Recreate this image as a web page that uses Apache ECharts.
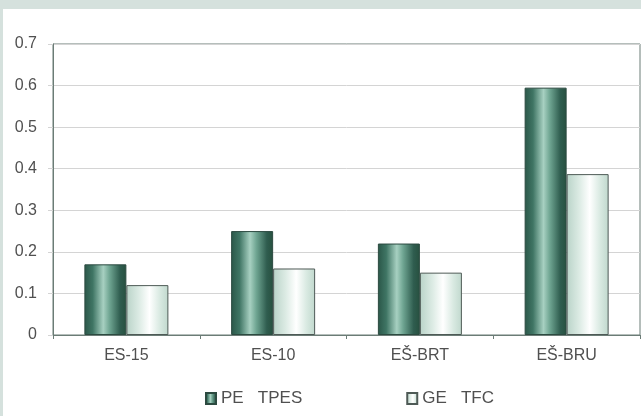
<!DOCTYPE html>
<html><head><meta charset="utf-8">
<script src="https://cdn.jsdelivr.net/npm/echarts@6/dist/echarts.min.js"></script>
<style>html,body{margin:0;padding:0;background:#d5e1dd}#c{width:641px;height:416px}</style>
</head><body><div id="c"></div>
<script>
const categories = ['ES-15', 'ES-10', 'EŠ-BRT', 'EŠ-BRU'];
const seriesNames = ['PE   TPES', 'GE   TFC'];
const peValues = [0.17, 0.25, 0.22, 0.595];
const geValues = [0.12, 0.16, 0.15, 0.387];
const yTicks = [0, 0.1, 0.2, 0.3, 0.4, 0.5, 0.6, 0.7];

const darkGrad = new echarts.graphic.LinearGradient(0, 0, 1, 0, [
  {offset: 0, color: '#2a5648'},
  {offset: 0.2, color: '#3f7564'},
  {offset: 0.45, color: '#a7d0c1'},
  {offset: 0.6, color: '#6fa592'},
  {offset: 0.85, color: '#2f5d4f'},
  {offset: 1, color: '#27503f'}
]);
const lightGrad = new echarts.graphic.LinearGradient(0, 0, 1, 0, [
  {offset: 0, color: '#b9d3c8'},
  {offset: 0.3, color: '#dcebe4'},
  {offset: 0.55, color: '#ffffff'},
  {offset: 0.8, color: '#d8e9e1'},
  {offset: 1, color: '#c0d8cd'}
]);

const chart = echarts.init(document.getElementById('c'));
chart.setOption({
  backgroundColor: '#d5e1dd',
  animation: false,
  graphic: [{type: 'rect', shape: {x: 3, y: 9, width: 640, height: 410}, style: {fill: '#ffffff'}, z: -10}],
  grid: {left: 53, top: 44, right: 1, bottom: 81, show: true, borderColor: '#6b7c76', borderWidth: 1, backgroundColor: 'transparent'},
  legend: {
    bottom: 4, left: 200, itemWidth: 10, itemHeight: 11, itemGap: 104, icon: 'rect',
    textStyle: {fontFamily: 'Liberation Sans', fontSize: 17, color: '#505050'},
    data: seriesNames
  },
  xAxis: {
    type: 'category', data: categories,
    axisLine: {lineStyle: {color: '#6b7c76'}},
    axisTick: {show: true, length: 4, lineStyle: {color: '#6b7c76'}},
    axisLabel: {fontFamily: 'Liberation Sans', fontSize: 16, color: '#505050', margin: 13}
  },
  yAxis: {
    type: 'value', min: 0, max: 0.7, interval: 0.1,
    axisLine: {show: true, lineStyle: {color: '#6b7c76'}},
    axisTick: {show: true, length: 5, lineStyle: {color: '#d4d4d4'}},
    splitLine: {lineStyle: {color: '#d4d4d4'}},
    axisLabel: {fontFamily: 'Liberation Sans', fontSize: 16, color: '#505050', margin: 16,
      formatter: v => yTicks.includes(Math.round(v*10)/10) ? String(Math.round(v*10)/10) : ''}
  },
  series: [
    {name: seriesNames[0], type: 'bar', data: peValues, barWidth: 42, barGap: '0%',
     itemStyle: {color: darkGrad, borderColor: '#2c4a40', borderWidth: 1}},
    {name: seriesNames[1], type: 'bar', data: geValues, barWidth: 42,
     itemStyle: {color: lightGrad, borderColor: '#4e5a56', borderWidth: 1}}
  ]
});
</script></body></html>
